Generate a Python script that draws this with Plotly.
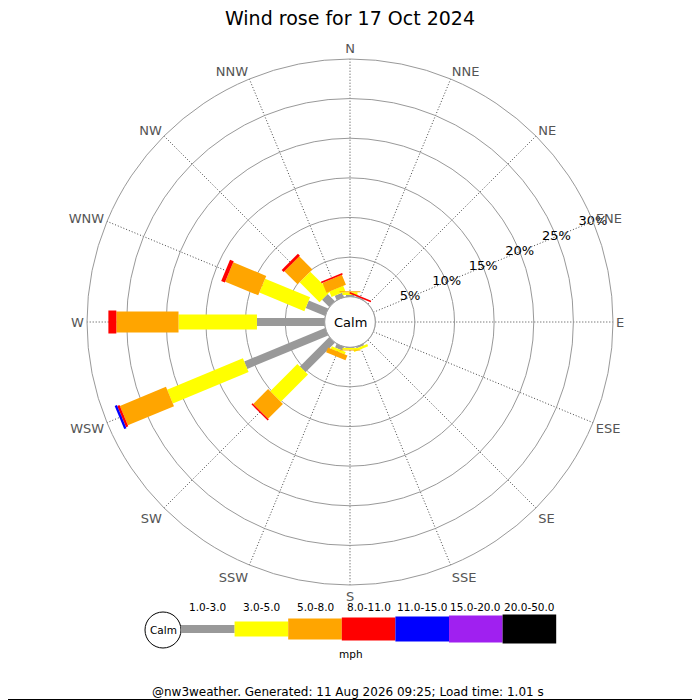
import numpy as np
import plotly.graph_objects as go

# ---------------- data ----------------
directions = ['N', 'NNE', 'NE', 'ENE', 'E', 'ESE', 'SE', 'SSE',
              'S', 'SSW', 'SW', 'WSW', 'W', 'WNW', 'NW', 'NNW']
speed_classes = ['1.0-3.0', '3.0-5.0', '5.0-8.0', '8.0-11.0',
                 '11.0-15.0', '15.0-20.0', '20.0-50.0']
# percentage of time per direction, per speed class (mph)
freq_1_3 = [0.20, 0.10, 0, 0, 0, 0, 0, 0.20, 0.10, 0.50, 5.25, 11.05, 8.55, 2.65, 1.30, 0.60]
freq_3_5 = [0.35, 0, 0, 0, 0, 0, 0, 0.30, 0.20, 0.35, 4.85, 10.35, 9.90, 6.15, 3.55, 0.75]
freq_5_8 = [0.15, 0, 0, 0, 0, 0, 0, 0, 0.10, 0.65, 2.65, 6.30, 7.85, 4.50, 2.35, 1.35]
freq_8_11 = [0, 0.20, 0, 0, 0, 0, 0, 0, 0, 0, 0.20, 0.30, 1.00, 0.50, 0.35, 0.20]
freq_11_15 = [0, 0, 0, 0, 0, 0, 0, 0, 0, 0, 0, 0.30, 0, 0, 0, 0]
freq_15_20 = [0] * 16
freq_20_50 = [0] * 16
radial_ticks = [5, 10, 15, 20, 25, 30]
radial_ticktext = ['5%', '10%', '15%', '20%', '25%', '30%']

# ---------------- styles ----------------
colors = ['#999999', '#ffff00', '#ffa500', '#ff0000', '#0000ff', '#a020f0', '#000000']
bar_px = [8, 15, 21, 23, 25, 27, 29]
FONT = 'DejaVu Sans'
OFF = 8.0            # page body margin
FW = FH = 692.0      # figure size so that it ends at the window edge
CX, CY = 350.0, 322.0
R_OUT = 263.0
R_HOLE = 25.3


def px(x):
    return (x - OFF) / FW


def py(y):
    return 1 - (y - OFF) / FH


series = [freq_1_3, freq_3_5, freq_5_8, freq_8_11, freq_11_15, freq_15_20, freq_20_50]
stack = np.array(series, dtype=float)
cum_top = np.cumsum(stack, axis=0)
cum_bot = cum_top - stack

fig = go.Figure()
for k in range(len(series)):
    rr, tt = [], []
    for d, name in enumerate(directions):
        if stack[k, d] > 0:
            rr += [cum_bot[k, d], cum_top[k, d], None]
            tt += [name, name, None]
    if not rr:
        rr, tt = [None], [None]
    fig.add_trace(go.Scatterpolar(
        r=rr, theta=tt, mode='lines', connectgaps=False,
        line=dict(color=colors[k], width=bar_px[k]),
        name=speed_classes[k], showlegend=False, hoverinfo='skip'))

# radial tick labels centered on the ENE spoke
fig.add_trace(go.Scatterpolar(
    r=radial_ticks, theta=['ENE'] * len(radial_ticks), mode='text',
    text=radial_ticktext, textfont=dict(family=FONT, size=13, color='black'),
    showlegend=False, hoverinfo='skip'))

fig.update_layout(
    width=FW, height=FH,
    margin=dict(l=0, r=0, t=0, b=0),
    paper_bgcolor='white',
    font=dict(family=FONT),
    title=dict(text='Wind rose for 17 Oct 2024', x=px(350), xanchor='center',
               y=py(18), yanchor='middle',
               font=dict(family=FONT, size=19, color='black')),
    polar=dict(
        domain=dict(x=[px(CX - R_OUT), px(CX + R_OUT)],
                    y=[py(CY + R_OUT), py(CY - R_OUT)]),
        hole=R_HOLE / R_OUT,
        bgcolor='white',
        angularaxis=dict(
            type='category', categoryarray=directions, rotation=90,
            direction='clockwise', showgrid=True, gridcolor='#444444',
            griddash='1px,2px', gridwidth=1, showline=True, linecolor='#999999',
            linewidth=1, ticks='', tickfont=dict(family=FONT, size=13, color='#555555')),
        radialaxis=dict(
            range=[0, 30], angle=22.5, tickvals=radial_ticks, showticklabels=False,
            showline=False, ticks='', showgrid=True, gridcolor='#999999', gridwidth=1),
    ),
)

shapes = []
annotations = []


def text(t, x, y, size):
    annotations.append(dict(text=t, x=px(x), y=py(y), xref='paper', yref='paper',
                            xanchor='center', yanchor='middle', showarrow=False,
                            font=dict(family=FONT, size=size, color='black')))


# calm circle in the middle
shapes.append(dict(type='circle', xref='paper', yref='paper',
                   x0=px(CX - R_HOLE), x1=px(CX + R_HOLE),
                   y0=py(CY + R_HOLE), y1=py(CY - R_HOLE),
                   line=dict(color='#999999', width=1), fillcolor='white', layer='above'))
text('Calm', CX, CY, 13)

# key at the bottom
LX0, LSEG, LY = 181.0, 53.6, 629.0
LCX, LCY, LCR = 163.0, 630.0, 18.0
shapes.append(dict(type='circle', xref='paper', yref='paper',
                   x0=px(LCX - LCR), x1=px(LCX + LCR),
                   y0=py(LCY + LCR), y1=py(LCY - LCR),
                   line=dict(color='black', width=1), fillcolor='white'))
text('Calm', LCX, LCY, 10.5)
for k, lab in enumerate(speed_classes):
    x0 = LX0 + k * LSEG
    x1 = x0 + LSEG
    h = bar_px[k]
    shapes.append(dict(type='rect', xref='paper', yref='paper',
                       x0=px(x0), x1=px(x1), y0=py(LY + h / 2), y1=py(LY - h / 2),
                       line=dict(width=0), fillcolor=colors[k]))
    text(lab, (x0 + x1) / 2, 607, 10.5)
text('mph', 351, 654, 10.5)
text('@nw3weather. Generated: 11 Aug 2026 09:25; Load time: 1.01 s', 348, 692, 12)

# frame lines on right and bottom edges
shapes.append(dict(type='line', xref='paper', yref='paper', x0=0, x1=1,
                   y0=py(699.5), y1=py(699.5), line=dict(color='black', width=1)))
shapes.append(dict(type='line', xref='paper', yref='paper', x0=px(699.5), x1=px(699.5),
                   y0=0, y1=1, line=dict(color='black', width=1)))

fig.update_layout(shapes=shapes, annotations=annotations)
fig.write_html('out.html')
